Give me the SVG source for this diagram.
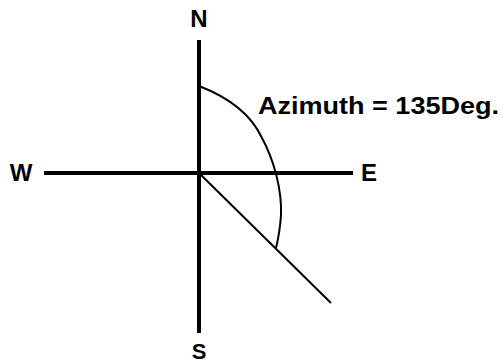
<svg xmlns="http://www.w3.org/2000/svg" width="504" height="364" viewBox="0 0 504 364">
<style>
.lbl{font-family:"Liberation Sans",Arial,sans-serif;font-weight:bold;fill:#000}
.axis{stroke:#000;stroke-width:4;fill:none}
.thin{stroke:#000;stroke-width:2;fill:none}
</style>
<rect width="504" height="364" fill="#fff"/>
<g id="connectors">
<line class="axis" x1="199" y1="40" x2="199" y2="333"/>
<line class="axis" x1="44" y1="173" x2="353" y2="173"/>
<line class="thin" x1="199" y1="173" x2="331" y2="303"/>
<path class="thin" d="M199,86 C225,96 250,112 262,138 C274,160 282,190 281,215 C280,230 278,240 276,248"/>
</g>
<g id="N"><text class="lbl" x="199" y="27" font-size="24" text-anchor="middle">N</text></g>
<g id="W"><text class="lbl" x="21" y="181" font-size="24" text-anchor="middle">W</text></g>
<g id="E"><text class="lbl" x="369" y="181" font-size="24" text-anchor="middle">E</text></g>
<g id="S"><text class="lbl" x="199" y="359" font-size="22" text-anchor="middle">S</text></g>
<g id="azimuth"><text class="lbl" x="258" y="114" font-size="24" textLength="241" lengthAdjust="spacingAndGlyphs">Azimuth = 135Deg.</text></g>
</svg>
